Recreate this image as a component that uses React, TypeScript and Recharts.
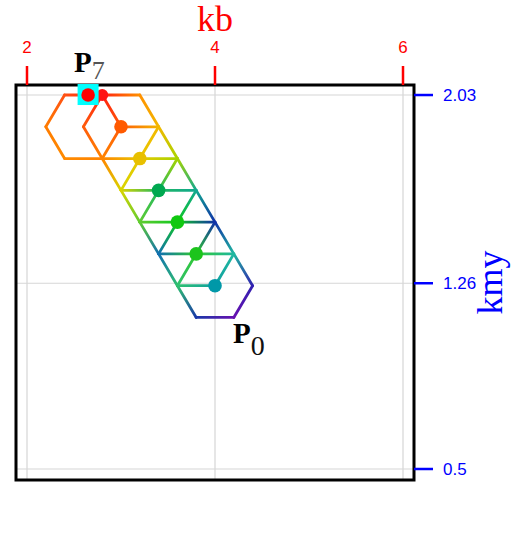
import {
  CartesianGrid,
  ReferenceArea,
  ReferenceLine,
  Scatter,
  ScatterChart,
  XAxis,
  YAxis,
} from 'recharts'

const KB_DOMAIN: [number, number] = [1.883, 6.117]
const KMY_DOMAIN: [number, number] = [0.455, 2.071]
const KB_TICKS = [2, 4, 6]
const KMY_TICKS = [0.5, 1.26, 2.03]

// search path P0 .. P7
const PATH_KB = [4.0, 3.8, 3.6, 3.4, 3.2, 3.0, 2.8, 2.65]
const PATH_KMY = [1.25, 1.38, 1.51, 1.64, 1.77, 1.9, 2.03, 2.03]
const PATH_COLORS = ['#0098a8', '#1cc41c', '#10c810', '#00a850', '#e8c000', '#ff5a00', '#ff1414', '#ff0000']

// hexagon centres, half width (kb) and half height (kmy)
const HEX_KB = [4.0, 3.8, 3.6, 3.4, 3.2, 3.0, 2.6]
const HEX_KMY = [1.25, 1.38, 1.51, 1.64, 1.77, 1.9, 1.9]
const HEX_HALF_KB = 0.4
const HEX_HALF_KMY = 0.13

// colour sampled at each hexagon corner
const VERTEX_KB = [
  2.4, 2.8, 3.2,
  2.2, 2.6, 3.0, 3.4,
  2.4, 2.8, 3.2, 3.6,
  3.0, 3.4, 3.8,
  3.2, 3.6, 4.0,
  3.4, 3.8, 4.2,
  3.6, 4.0, 4.4,
  3.8, 4.2,
]
const VERTEX_KMY = [
  2.03, 2.03, 2.03,
  1.9, 1.9, 1.9, 1.9,
  1.77, 1.77, 1.77, 1.77,
  1.64, 1.64, 1.64,
  1.51, 1.51, 1.51,
  1.38, 1.38, 1.38,
  1.25, 1.25, 1.25,
  1.12, 1.12,
]
const VERTEX_COLORS = [
  '#ff5014', '#ff2010', '#ff9000',
  '#ff7c00', '#ff5c0c', '#ff5a08', '#f2b800',
  '#ff8a00', '#ff8400', '#e8c800', '#a8d400',
  '#d8d400', '#20b860', '#10a890',
  '#60cc30', '#10c820', '#1030a8',
  '#1070b0', '#30c830', '#20b8a0',
  '#30c070', '#10a0a0', '#3020b0',
  '#1838a8', '#6810b0',
]

const LABEL_TEXT: Record<number, string> = { 0: '0', 7: '7' }

const round = (v: number) => Math.round(v * 100) / 100

function vertexColor(kb: number, kmy: number) {
  let best = 0
  let bestDist = Infinity
  VERTEX_KB.forEach((vx, i) => {
    const d = (vx - kb) ** 2 + ((VERTEX_KMY[i] - kmy) * 3) ** 2
    if (d < bestDist) {
      bestDist = d
      best = i
    }
  })
  return VERTEX_COLORS[best]
}

interface Edge {
  a: { x: number; y: number }
  b: { x: number; y: number }
}

function buildEdges(): Edge[] {
  const seen = new Set<string>()
  const edges: Edge[] = []
  HEX_KB.forEach((cx, h) => {
    const cy = HEX_KMY[h]
    const a = HEX_HALF_KB
    const b = HEX_HALF_KMY
    const corners = [
      [cx + a, cy],
      [cx + a / 2, cy + b],
      [cx - a / 2, cy + b],
      [cx - a, cy],
      [cx - a / 2, cy - b],
      [cx + a / 2, cy - b],
    ].map(([x, y]) => ({ x: round(x), y: round(y) }))
    corners.forEach((p, i) => {
      const q = corners[(i + 1) % 6]
      const k1 = `${p.x},${p.y}`
      const k2 = `${q.x},${q.y}`
      const key = k1 < k2 ? `${k1}|${k2}` : `${k2}|${k1}`
      if (seen.has(key)) return
      seen.add(key)
      edges.push({ a: p, b: q })
    })
  })
  return edges
}

const EDGES = buildEdges()

const pathData = PATH_KB.map((kb, i) => ({ kb, kmy: PATH_KMY[i], i }))

function GradientEdge(props: any) {
  const { x1, y1, x2, y2, gid, from, to } = props
  return (
    <g>
      <defs>
        <linearGradient id={gid} gradientUnits="userSpaceOnUse" x1={x1} y1={y1} x2={x2} y2={y2}>
          <stop offset="0" stopColor={from} />
          <stop offset="1" stopColor={to} />
        </linearGradient>
      </defs>
      <line x1={x1} y1={y1} x2={x2} y2={y2} stroke={`url(#${gid})`} strokeWidth={2.8} strokeLinecap="round" />
    </g>
  )
}

function PathDot(props: any) {
  const { cx, cy, payload } = props
  const i = payload.i
  const sub = LABEL_TEXT[i]
  return (
    <g>
      {i === 7 && <rect x={cx - 10.5} y={cy - 11} width={21} height={21} fill="#00ffff" />}
      <circle cx={cx} cy={cy} r={i === 6 ? 6 : 6.8} fill={PATH_COLORS[i]} />
      {sub !== undefined && (
        <text
          x={i === 0 ? cx + 18 : cx - 14}
          y={i === 0 ? cy + 57 : cy - 23}
          fontFamily="'Liberation Serif', serif"
        >
          <tspan fontSize={29} fontWeight="bold" fill="#000">P</tspan>
          <tspan fontSize={i === 0 ? 28 : 26} dy={i === 0 ? 12 : 7} fill={i === 0 ? '#111' : '#555'}>
            {sub}
          </tspan>
        </text>
      )}
    </g>
  )
}

export default function App() {
  return (
    <div style={{ position: 'absolute', left: 0, top: 0 }}>
      <ScatterChart width={512} height={535} margin={{ top: 0, right: 0, bottom: 55, left: 16 }}>
        <CartesianGrid stroke="#d6d6d6" strokeWidth={1.2} />
        <XAxis
          type="number"
          dataKey="kb"
          orientation="top"
          domain={KB_DOMAIN}
          ticks={KB_TICKS}
          height={85}
          tickSize={19}
          tickMargin={13}
          axisLine={false}
          tickLine={{ stroke: '#ff0000', strokeWidth: 2.5 }}
          tick={{ fill: '#ff0000', fontSize: 17, fontFamily: "'Liberation Sans', sans-serif" }}
          label={{
            content: ({ viewBox }: any) => (
              <text
                x={viewBox.x + viewBox.width / 2}
                y={viewBox.y + 31}
                textAnchor="middle"
                fill="#ff0000"
                fontSize={36}
                fontFamily="'Liberation Serif', serif"
              >
                kb
              </text>
            ),
          }}
        />
        <YAxis
          type="number"
          dataKey="kmy"
          orientation="right"
          domain={KMY_DOMAIN}
          ticks={KMY_TICKS}
          width={98}
          tickSize={19}
          tickMargin={10}
          axisLine={false}
          tickLine={{ stroke: '#0000ff', strokeWidth: 2.5 }}
          tick={{ fill: '#0000ff', fontSize: 17, fontFamily: "'Liberation Sans', sans-serif" }}
          label={{
            content: ({ viewBox }: any) => {
              const x = viewBox.x + viewBox.width - 10
              const y = viewBox.y + viewBox.height / 2
              return (
                <text
                  x={x}
                  y={y}
                  transform={`rotate(-90 ${x} ${y})`}
                  textAnchor="middle"
                  fill="#0000ff"
                  fontSize={36}
                  fontFamily="'Liberation Serif', serif"
                >
                  kmy
                </text>
              )
            },
          }}
        />
        <ReferenceArea
          x1={KB_DOMAIN[0]}
          x2={KB_DOMAIN[1]}
          y1={KMY_DOMAIN[0]}
          y2={KMY_DOMAIN[1]}
          fill="none"
          stroke="#000"
          strokeWidth={3}
          ifOverflow="visible"
        />
        {EDGES.map((e, k) => (
          <ReferenceLine
            key={k}
            segment={[e.a, e.b]}
            ifOverflow="visible"
            shape={(p: any) => (
              <GradientEdge
                {...p}
                gid={`hex-edge-${k}`}
                from={vertexColor(e.a.x, e.a.y)}
                to={vertexColor(e.b.x, e.b.y)}
              />
            )}
          />
        ))}
        <Scatter data={pathData} shape={<PathDot />} isAnimationActive={false} />
      </ScatterChart>
    </div>
  )
}
